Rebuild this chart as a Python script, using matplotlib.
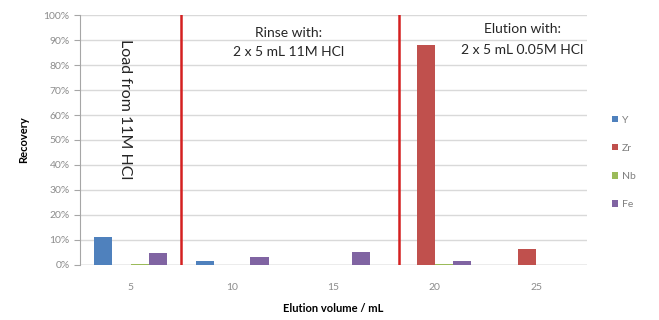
import numpy as np
import matplotlib
matplotlib.use("Agg")
import matplotlib.pyplot as plt
import matplotlib.ticker as mticker

plt.rcParams['font.family'] = ['Lato', 'DejaVu Sans']

# data (recovery fraction per 5 mL fraction)
volumes = ["5", "10", "15", "20", "25"]
series_names = ["Y", "Zr", "Nb", "Fe"]
y_vals = [0.112, 0.015, 0.0, 0.0, 0.0]
zr_vals = [0.0, 0.0, 0.0, 0.88, 0.064]
nb_vals = [0.003, 0.0, 0.0, 0.003, 0.0]
fe_vals = [0.049, 0.033, 0.052, 0.015, 0.0]
colors = ["#4F81BD", "#C0504D", "#9BBB59", "#8064A2"]

# step boundaries (category index units)
boundaries = [0.5, 2.65]

fig = plt.figure(figsize=(6.59, 3.20), dpi=100)
ax = fig.add_axes([0.1214, 0.172, 0.7693, 0.781])

x = np.arange(len(volumes))
w = 0.18
for j, (vals, c, n) in enumerate(zip([y_vals, zr_vals, nb_vals, fe_vals], colors, series_names)):
    ax.bar(x + (j - 1.5) * w, vals, width=w, color=c, label=n, zorder=3)

for b in boundaries:
    ax.axvline(b, color="#D42020", lw=1.8, zorder=4)

ax.set_xlim(-0.5, len(volumes) - 0.5)
ax.set_ylim(0, 1.0)
ax.yaxis.set_major_locator(mticker.MultipleLocator(0.1))
ax.yaxis.set_major_formatter(mticker.PercentFormatter(1.0, decimals=0))
ax.set_xticks(x)
ax.set_xticklabels(volumes)
ax.grid(axis="y", color="#D9D9D9", lw=1, zorder=0)
for s in ["top", "right", "bottom"]:
    ax.spines[s].set_visible(False)
ax.spines["left"].set_color("#A6A6A6")
ax.axhline(0, color="#BFBFBF", lw=1, zorder=2)
ax.tick_params(axis="y", colors="#A6A6A6", labelcolor="#8C8C8C", labelsize=7.5, length=4)
ax.tick_params(axis="x", length=0, labelcolor="#8C8C8C", labelsize=7.5, pad=13)

ax.set_ylabel("Recovery", fontsize=8, fontweight="bold", labelpad=10)
ax.set_xlabel("Elution volume / mL", fontsize=8, fontweight="bold", labelpad=8)

ax.text(-0.06, 0.905, "Load from 11M HCl", rotation=-90, ha="center", va="top", fontsize=11.5, color="#262626")
ax.text(1.56, 0.953, "Rinse with:\n2 x 5 mL 11M HCl", ha="center", va="top", fontsize=10,
        color="#262626", linespacing=1.75)
ax.text(3.86, 0.968, "Elution with:\n2 x 5 mL 0.05M HCl", ha="center", va="top", fontsize=10,
        color="#262626", linespacing=1.9)

ax.legend(loc="center left", bbox_to_anchor=(1.03, 0.41), frameon=False, fontsize=7.5,
          handlelength=0.6, handleheight=0.6, labelspacing=1.85, labelcolor="#7F7F7F",
          handletextpad=0.4)

fig.savefig("out.png", dpi=100)
